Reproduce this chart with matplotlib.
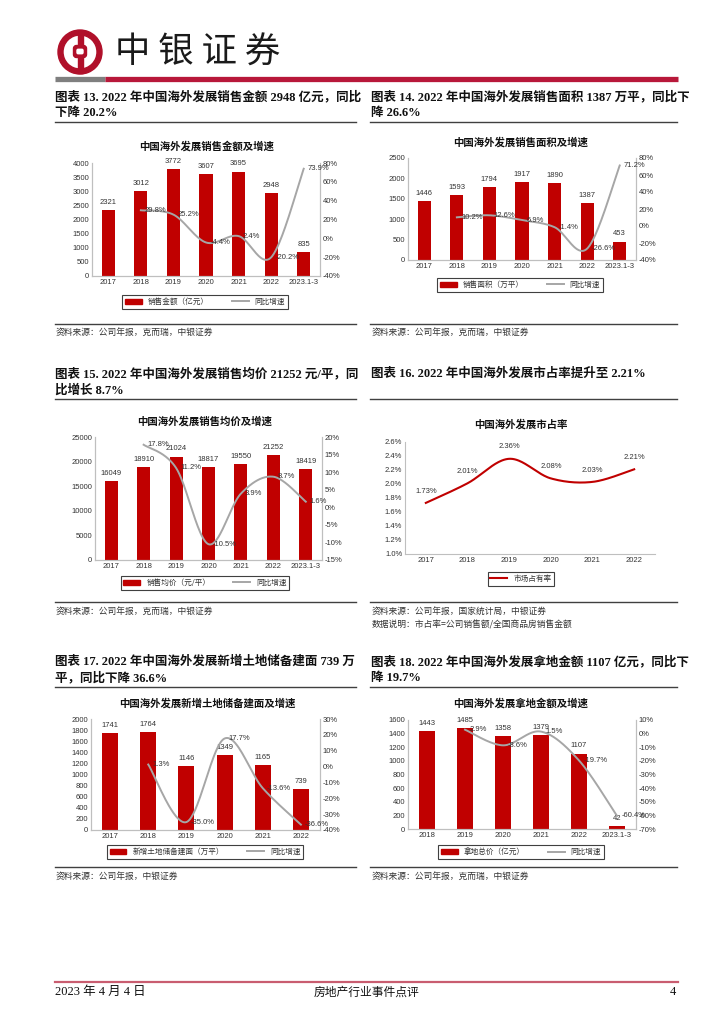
import numpy as np
import matplotlib
matplotlib.use('Agg')
import matplotlib.pyplot as plt
import matplotlib.patches as mpatches
from matplotlib.lines import Line2D
from matplotlib.ticker import FuncFormatter, MultipleLocator

plt.rcParams['font.family'] = ['Liberation Sans', 'Noto Sans CJK SC']
plt.rcParams['axes.unicode_minus'] = False

# ---- data ----
years_sales = ['2017', '2018', '2019', '2020', '2021', '2022', '2023.1-3']
sales_amount = [2321, 3012, 3772, 3607, 3695, 2948, 835]
sales_amount_yoy = [None, 29.8, 25.2, -4.4, 2.4, -20.2, 73.9]
sales_area = [1446, 1593, 1794, 1917, 1890, 1387, 453]
sales_area_yoy = [None, 10.2, 12.6, 6.9, -1.4, -26.6, 71.2]
avg_price = [16049, 18910, 21024, 18817, 19550, 21252, 18419]
avg_price_yoy = [None, 17.8, 11.2, -10.5, 3.9, 8.7, 1.6]

years_share = ['2017', '2018', '2019', '2020', '2021', '2022']
market_share = [1.73, 2.01, 2.36, 2.08, 2.03, 2.21]

years_land = ['2017', '2018', '2019', '2020', '2021', '2022']
land_area = [1741, 1764, 1146, 1349, 1165, 739]
land_area_yoy = [None, 1.3, -35.0, 17.7, -13.6, -36.6]

years_cost = ['2018', '2019', '2020', '2021', '2022', '2023.1-3']
land_cost = [1443, 1485, 1358, 1379, 1107, 42]
land_cost_yoy = [None, 2.9, -8.6, 1.5, -19.7, -60.4]

W, H = 724, 1024
RED = '#C00000'
GREY = '#A6A6A6'
TXT = '#333333'
SERIF = ['Liberation Serif', 'Noto Sans CJK SC']
CJK = ['Noto Sans CJK SC']

fig = plt.figure(figsize=(7.24, 10.24), dpi=100)
bg = fig.add_axes([0, 0, 1, 1])
bg.set_xlim(0, W)
bg.set_ylim(H, 0)
bg.axis('off')


def px_axes(x0, top, x1, bottom):
    return fig.add_axes([x0 / W, 1 - bottom / H, (x1 - x0) / W, (bottom - top) / H])


def smooth_path(xs, ys, sx, sy, n=40):
    # excel style smoothed line (bezier through the points)
    P = np.column_stack([np.asarray(xs, float) * sx, np.asarray(ys, float) * sy])
    E = np.vstack([P[0], P, P[-1]])
    t = np.linspace(0, 1, n)[:, None]
    segs = []
    for i in range(len(P) - 1):
        p0, p1, p2, p3 = E[i], E[i + 1], E[i + 2], E[i + 3]
        c1 = p1 + (p2 - p0) / 6
        c2 = p2 - (p3 - p1) / 6
        segs.append((1 - t) ** 3 * p1 + 3 * (1 - t) ** 2 * t * c1 + 3 * (1 - t) * t ** 2 * c2 + t ** 3 * p2)
    S = np.vstack(segs)
    return S[:, 0] / sx, S[:, 1] / sy


def style_axis(ax, right=True):
    ax.set_facecolor('none')
    ax.spines['top'].set_visible(False)
    ax.spines['right'].set_visible(right)
    for s in ['left', 'bottom', 'right']:
        ax.spines[s].set_color('#BFBFBF')
        ax.spines[s].set_linewidth(0.8)
    ax.tick_params(length=0, labelsize=5.5, labelcolor=TXT, pad=2)


def add_legend(ax, handles, labels, xy):
    leg = ax.legend(handles, labels, loc='center', bbox_to_anchor=(xy[0] / W, 1 - xy[1] / H),
                    bbox_transform=fig.transFigure, ncol=len(handles),
                    frameon=True, fancybox=False, framealpha=1, edgecolor='#404040',
                    borderpad=0.35, handlelength=2.2, handleheight=0.6, columnspacing=3.0,
                    handletextpad=0.8, prop={'family': CJK, 'size': 5.5})
    leg.get_frame().set_linewidth(0.8)
    for t in leg.get_texts():
        t.set_color(TXT)


def dual_chart(box, cats, bars, yoy, ylim, ystep, y2lim, y2step, width, title, title_xy, bar_name, legend_xy):
    x0, top, x1, bottom = box
    ax = px_axes(*box)
    style_axis(ax)
    x = np.arange(len(cats))
    ax.bar(x, bars, width=width, color=RED, zorder=2)
    ax.set_xlim(-0.5, len(cats) - 0.5)
    ax.set_ylim(*ylim)
    ax.yaxis.set_major_locator(MultipleLocator(ystep))
    ax.set_xticks(x)
    ax.set_xticklabels(cats)
    for xi, v in zip(x, bars):
        ax.annotate(str(v), (xi, v), xytext=(0, 3), textcoords='offset points',
                    ha='center', va='bottom', fontsize=5.5, color=TXT)
    ax2 = ax.twinx()
    style_axis(ax2)
    ax2.set_ylim(*y2lim)
    ax2.yaxis.set_major_locator(MultipleLocator(y2step))
    ax2.yaxis.set_major_formatter(FuncFormatter(lambda v, p: f'{v:.0f}%'))
    idx = [i for i, v in enumerate(yoy) if v is not None]
    ly = [yoy[i] for i in idx]
    sx = (x1 - x0) / len(cats)
    sy = (bottom - top) / (y2lim[1] - y2lim[0])
    px, py = smooth_path(idx, ly, sx, sy)
    ax2.plot(px, py, color=GREY, lw=1.4, zorder=3)
    for i, v in zip(idx, ly):
        ax2.annotate(f'{v:.1f}%', (i, v), xytext=(3, 0), textcoords='offset points',
                     ha='left', va='center', fontsize=5.5, color=TXT)
    bg.text(title_xy[0], title_xy[1], title, ha='center', va='center', fontsize=7.5,
            fontweight='bold', family=CJK, color='#111111')
    add_legend(ax2, [mpatches.Patch(color=RED), Line2D([], [], color=GREY, lw=1.4)],
               [bar_name, '同比增速'], legend_xy)
    return ax


# ---- page header ----
bg.add_patch(mpatches.Wedge((80, 52), 22, 0, 360, width=5, color='#B0102A'))
bg.add_patch(mpatches.Rectangle((77.5, 31), 5, 42, color='#B0102A'))
bg.add_patch(mpatches.FancyBboxPatch((73.5, 45.5), 13, 12, boxstyle='round,pad=0,rounding_size=3', color='#B0102A'))
bg.add_patch(mpatches.FancyBboxPatch((77, 49.3), 6, 4.4, boxstyle='round,pad=0,rounding_size=1.2', color='white'))
bg.text(115, 53, '中 银 证 券', fontsize=25.5, family=CJK, va='center', ha='left', color='#1a1a1a')
bg.plot([55, 105], [79, 79], color='#7F7F7F', lw=3.8, solid_capstyle='butt')
bg.plot([105, 678], [79, 79], color='#B8183A', lw=3.8, solid_capstyle='butt')

# ---- panel headings ----
headings = [
    (55, 97, 113, '图表 13. 2022 年中国海外发展销售金额 2948 亿元，同比', '下降 20.2%'),
    (371, 97, 113, '图表 14. 2022 年中国海外发展销售面积 1387 万平，同比下', '降 26.6%'),
    (55, 374, 390, '图表 15. 2022 年中国海外发展销售均价 21252 元/平，同', '比增长 8.7%'),
    (371, 374, 390, '图表 16. 2022 年中国海外发展市占率提升至 2.21%', ''),
    (55, 662, 678, '图表 17. 2022 年中国海外发展新增土地储备建面 739 万', '平，同比下降 36.6%'),
    (371, 662, 678, '图表 18. 2022 年中国海外发展拿地金额 1107 亿元，同比下', '降 19.7%'),
]
for hx, hy1, hy2, l1, l2 in headings:
    bg.text(hx, hy1, l1, fontsize=9, family=SERIF, fontweight='bold', va='center', ha='left', color='#111111')
    if l2:
        bg.text(hx, hy2, l2, fontsize=9, family=SERIF, fontweight='bold', va='center', ha='left', color='#111111')

for ry in [122, 324, 399, 602, 687, 867]:
    bg.plot([55, 356], [ry, ry], color='#404040', lw=1.0)
    bg.plot([370, 677], [ry, ry], color='#404040', lw=1.0)

sources = [
    (56, 332, '资料来源：公司年报，克而瑞，中银证券'),
    (372, 332, '资料来源：公司年报，克而瑞，中银证券'),
    (56, 611, '资料来源：公司年报，克而瑞，中银证券'),
    (372, 611, '资料来源：公司年报，国家统计局，中银证券'),
    (372, 625, '数据说明：市占率=公司销售额/全国商品房销售金额'),
    (56, 876, '资料来源：公司年报，中银证券'),
    (372, 876, '资料来源：公司年报，克而瑞，中银证券'),
]
for sx_, sy_, st in sources:
    bg.text(sx_, sy_, st, fontsize=6.3, family=CJK, va='center', ha='left', color='#333333')

# ---- charts ----
dual_chart((92, 163, 320, 276), years_sales, sales_amount, sales_amount_yoy, (0, 4000), 500,
           (-40, 80), 20, 0.4, '中国海外发展销售金额及增速', (207, 146), '销售金额（亿元）', (205, 302))
dual_chart((408, 158, 636, 260), years_sales, sales_area, sales_area_yoy, (0, 2500), 500,
           (-40, 80), 20, 0.4, '中国海外发展销售面积及增速', (521, 142), '销售面积（万平）', (520, 285))
dual_chart((95, 437, 322, 560), years_sales, avg_price, avg_price_yoy, (0, 25000), 5000,
           (-15, 20), 5, 0.4, '中国海外发展销售均价及增速', (205, 421), '销售均价（元/平）', (205, 583))
dual_chart((91, 719, 320, 830), years_land, land_area, land_area_yoy, (0, 2000), 200,
           (-40, 30), 10, 0.42, '中国海外发展新增土地储备建面及增速', (207, 703), '新增土地储备建面（万平）', (205, 852))
dual_chart((408, 720, 636, 829), years_cost, land_cost, land_cost_yoy, (0, 1600), 200,
           (-70, 10), 10, 0.42, '中国海外发展拿地金额及增速', (521, 703), '拿地总价（亿元）', (521, 852))

# market share line chart
ax4 = px_axes(405, 442, 655, 554)
style_axis(ax4, right=False)
xs4 = np.arange(len(years_share))
ax4.set_xlim(-0.5, len(years_share) - 0.5)
ax4.set_ylim(1.0, 2.6)
ax4.yaxis.set_major_locator(MultipleLocator(0.2))
ax4.yaxis.set_major_formatter(FuncFormatter(lambda v, p: f'{v:.1f}%'))
ax4.set_xticks(xs4)
ax4.set_xticklabels(years_share)
sx4 = 250 / len(years_share)
sy4 = 112 / 1.6
mx, my = smooth_path(xs4, market_share, sx4, sy4)
ax4.plot(mx, my, color=RED, lw=1.5)
for xi, v in zip(xs4, market_share):
    ax4.annotate(f'{v:.2f}%', (xi, v), xytext=(0, 6), textcoords='offset points',
                 ha='center', va='bottom', fontsize=5.5, color=TXT)
bg.text(521, 424, '中国海外发展市占率', ha='center', va='center', fontsize=7.5,
        fontweight='bold', family=CJK, color='#111111')
add_legend(ax4, [Line2D([], [], color=RED, lw=1.5)], ['市场占有率'], (521, 579))

# ---- footer ----
bg.plot([55, 678], [982, 982], color='#C95D70', lw=1.6)
bg.text(55, 992, '2023 年 4 月 4 日', fontsize=9, family=SERIF, va='center', ha='left', color='#111111')
bg.text(367, 992, '房地产行业事件点评', fontsize=8.5, family=CJK, va='center', ha='center', color='#111111')
bg.text(676, 992, '4', fontsize=9, family=SERIF, va='center', ha='right', color='#111111')

fig.savefig('out.png', dpi=100)
